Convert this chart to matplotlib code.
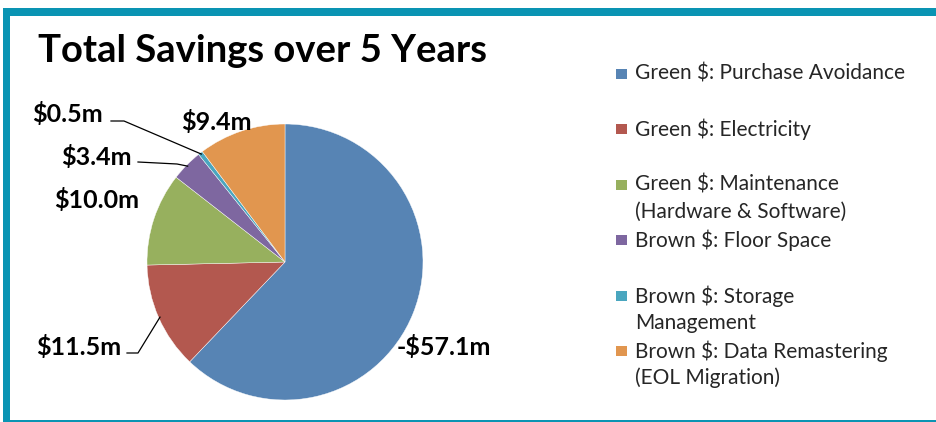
import matplotlib
matplotlib.use("Agg")
import matplotlib.pyplot as plt
from matplotlib.patches import Rectangle
import numpy as np

# ---- data ----
categories = [
    "Green $: Purchase Avoidance",
    "Green $: Electricity",
    "Green $: Maintenance\n(Hardware & Software)",
    "Brown $: Floor Space",
    "Brown $: Storage\nManagement",
    "Brown $: Data Remastering\n(EOL Migration)",
]
values = [57.1, 11.5, 10.0, 3.4, 0.5, 9.4]
value_labels = ["-$57.1m", "$11.5m", "$10.0m", "$3.4m", "$0.5m", "$9.4m"]
colors = ["#5784B4", "#B3584F", "#97B05E", "#7E67A0", "#4AA6BF", "#E1964F"]

W, H = 936, 422
fig = plt.figure(figsize=(W / 100, H / 100), dpi=100)
fig.patch.set_facecolor("white")

def fx(px):
    return px / W

def fy(py):
    return 1 - py / H

# frame
teal = "#0A94B3"
fig.patches.append(Rectangle((fx(3), fy(422)), fx(7), (422 - 8) / H, transform=fig.transFigure,
                             facecolor=teal, edgecolor="none"))
fig.patches.append(Rectangle((fx(3), fy(16)), 1, 8 / H, transform=fig.transFigure,
                             facecolor=teal, edgecolor="none"))
fig.patches.append(Rectangle((fx(3), 0), 1, 2 / H, transform=fig.transFigure,
                             facecolor=teal, edgecolor="none"))

# pie axes
cx, cy, r = 285, 262, 138
ax = fig.add_axes([fx(cx - r), fy(cy + r), 2 * r / W, 2 * r / H])
ax.pie(values, colors=colors, startangle=90, counterclock=False, radius=1,
       wedgeprops=dict(linewidth=0.3, edgecolor="white"))
ax.set_xlim(-1, 1)
ax.set_ylim(-1, 1)
ax.set_aspect("equal")
ax.axis("off")

# wedge mid angles
total = sum(values)
angles = []
start = 90.0
for v in values:
    span = 360.0 * v / total
    angles.append(np.deg2rad(start - span / 2))
    start -= span

def px2data(px, py):
    return ((px - cx) / r, (cy - py) / r)

lab_font = dict(family="Lato", fontweight="bold", fontsize=18, color="black")
label_pos = [(444, 347), (79, 347), (97, 200), (96, 157), (67, 114), (216, 122)]
for i, (lx, ly) in enumerate(label_pos):
    x, y = px2data(lx, ly)
    ax.text(x, y, value_labels[i], ha="center", va="center", clip_on=False, **lab_font)

# leader lines (from label to wedge edge)
leaders = {1: [(127, 353), (138, 353)], 3: [(138, 162), (177, 164)], 4: [(111, 121), (124, 121)]}
for i, pts in leaders.items():
    ex, ey = np.cos(angles[i]) * 0.99, np.sin(angles[i]) * 0.99
    xs = [px2data(*p)[0] for p in pts] + [ex]
    ys = [px2data(*p)[1] for p in pts] + [ey]
    ax.plot(xs, ys, color="black", lw=0.9, clip_on=False)

# title
fig.text(fx(38), fy(51), "Total Savings over 5 Years", family="Lato", fontweight="bold",
         fontsize=27.5, ha="left", va="center", color="black")

# legend
row_y = [74, 129, 185, 240, 296, 351]
for i, cat in enumerate(categories):
    fig.patches.append(Rectangle((fx(616), fy(row_y[i] + 5)), 11 / W, 10 / H,
                                 transform=fig.transFigure, facecolor=colors[i], edgecolor="none"))
    lines = cat.split("\n")
    for j, ln in enumerate(lines):
        fig.text(fx(635), fy(row_y[i] + 27 * j), ln, family="Lato", fontsize=15,
                 ha="left", va="center", color="#262626")

fig.savefig("out.png", dpi=100)
